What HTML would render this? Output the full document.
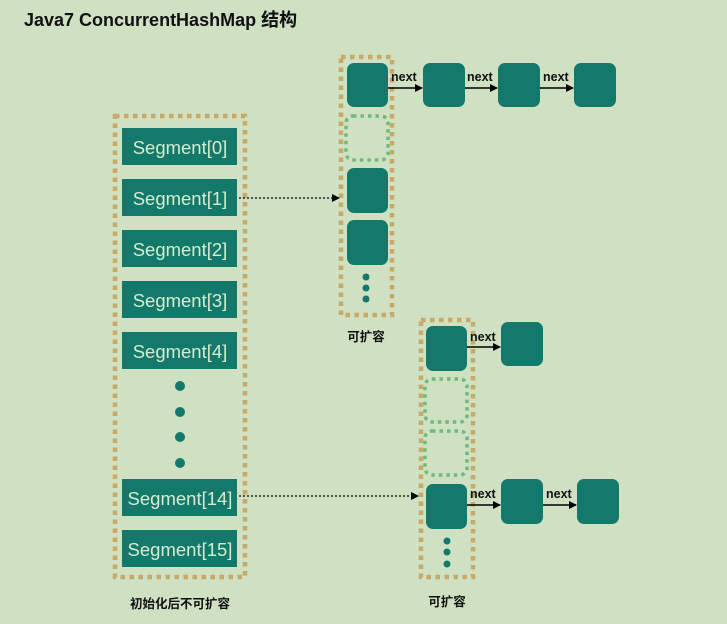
<!DOCTYPE html>
<html><head><meta charset="utf-8"><style>
html,body{margin:0;padding:0;background:#cfe0c3;}
svg{display:block}
text{font-family:"Liberation Sans","Noto Sans CJK SC",sans-serif;}
</style></head><body>
<svg width="727" height="624" viewBox="0 0 727 624" xmlns="http://www.w3.org/2000/svg">
<rect width="727" height="624" fill="#cfe0c3"/>
<defs><marker id="ah" markerWidth="8" markerHeight="8" refX="7" refY="4" orient="auto" markerUnits="userSpaceOnUse"><path d="M0,0 L8,4 L0,8 Z" fill="#000"/></marker></defs>
<text x="24" y="26" font-size="18" font-weight="bold" fill="#111">Java7 ConcurrentHashMap 结构</text>

<g fill="none" stroke="#c8a965" stroke-width="4.5" stroke-dasharray="4.5 4.5">
<rect x="115" y="116" width="130" height="461"/>
<rect x="341" y="57" width="51" height="258"/>
<rect x="421" y="320" width="52" height="257"/>
</g>

<g fill="#137a6b">
<rect x="122" y="128" width="115" height="37"/>
<rect x="122" y="179" width="115" height="37"/>
<rect x="122" y="230" width="115" height="37"/>
<rect x="122" y="281" width="115" height="37"/>
<rect x="122" y="332" width="115" height="37"/>
<rect x="122" y="479" width="115" height="37"/>
<rect x="122" y="530" width="115" height="37"/>
</g>
<g fill="#d6ebcf" font-size="18.5" text-anchor="middle">
<text x="180" y="154">Segment[0]</text>
<text x="180" y="205">Segment[1]</text>
<text x="180" y="256">Segment[2]</text>
<text x="180" y="307">Segment[3]</text>
<text x="180" y="358">Segment[4]</text>
<text x="180" y="505">Segment[14]</text>
<text x="180" y="556">Segment[15]</text>
</g>
<g fill="#137a6b">
<circle cx="180" cy="386" r="5"/><circle cx="180" cy="412" r="5"/><circle cx="180" cy="437" r="5"/><circle cx="180" cy="463" r="5"/>
<circle cx="366" cy="277" r="3.5"/><circle cx="366" cy="288" r="3.5"/><circle cx="366" cy="299" r="3.5"/>
<circle cx="447" cy="541" r="3.5"/><circle cx="447" cy="552" r="3.5"/><circle cx="447" cy="564" r="3.5"/>
</g>

<g fill="#137a6b">
<rect x="347" y="63" width="41" height="44" rx="7"/>
<rect x="347" y="168" width="41" height="45" rx="7"/>
<rect x="347" y="220" width="41" height="45" rx="7"/>
<rect x="423" y="63" width="42" height="44" rx="7"/>
<rect x="498" y="63" width="42" height="44" rx="7"/>
<rect x="574" y="63" width="42" height="44" rx="7"/>
<rect x="426" y="326" width="41" height="45" rx="7"/>
<rect x="426" y="484" width="41" height="45" rx="7"/>
<rect x="501" y="322" width="42" height="44" rx="7"/>
<rect x="501" y="479" width="42" height="45" rx="7"/>
<rect x="577" y="479" width="42" height="45" rx="7"/>
</g>
<g fill="none" stroke="#6fbb79" stroke-width="3.5" stroke-dasharray="3.5 4">
<rect x="346" y="116" width="42" height="44" rx="7"/>
<rect x="425" y="379" width="42" height="43" rx="7"/>
<rect x="425" y="431" width="42" height="44" rx="7"/>
</g>

<g stroke="#000" stroke-width="1.5" marker-end="url(#ah)">
<line x1="388" y1="88" x2="422" y2="88"/>
<line x1="465" y1="88" x2="497" y2="88"/>
<line x1="540" y1="88" x2="573" y2="88"/>
<line x1="467" y1="347" x2="500" y2="347"/>
<line x1="467" y1="505" x2="500" y2="505"/>
<line x1="543" y1="505" x2="576" y2="505"/>
</g>
<g stroke="#000" stroke-width="1.3" stroke-dasharray="2 2" marker-end="url(#ah)">
<line x1="239" y1="198" x2="339" y2="198"/>
<line x1="239" y1="496" x2="418" y2="496"/>
</g>
<g font-size="12.5" font-weight="bold" fill="#111">
<text x="391" y="81">next</text>
<text x="467" y="81">next</text>
<text x="543" y="81">next</text>
<text x="470" y="341">next</text>
<text x="470" y="498">next</text>
<text x="546" y="498">next</text>
</g>
<g font-size="12.5" font-weight="bold" fill="#111" text-anchor="middle">
<text x="366" y="341">可扩容</text>
<text x="447" y="606">可扩容</text>
<text x="180" y="608">初始化后不可扩容</text>
</g>
</svg>
</body></html>
